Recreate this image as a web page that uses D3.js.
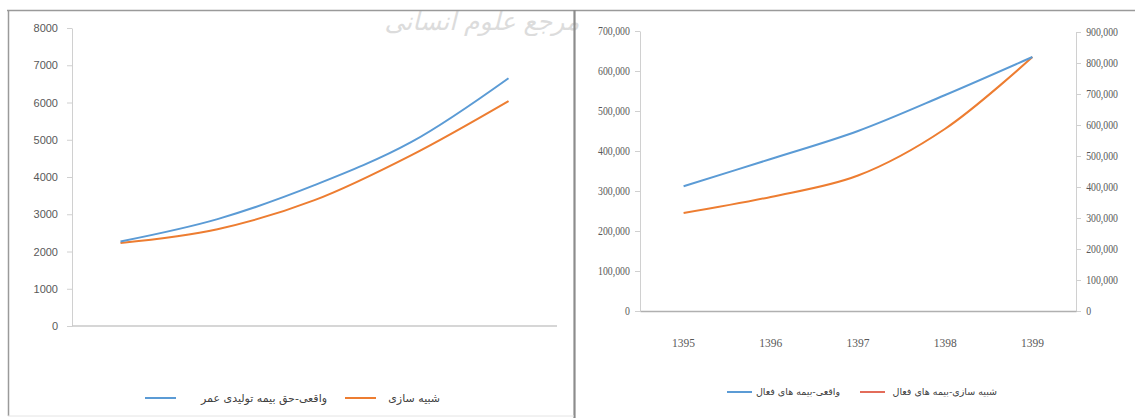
<!DOCTYPE html>
<html>
<head>
<meta charset="utf-8">
<script src="https://cdn.jsdelivr.net/npm/d3@7"></script>
<style>
  body { margin: 0; background: #fff; }
  svg { display: block; }
</style>
</head>
<body>
<div id="chart"></div>
<script>
// left panel: life premiums, real vs simulation (no category labels)
const leftCats = [1, 2, 3, 4, 5]
const leftReal = [2270, 2870, 3780, 4940, 6650]
const leftSim = [2230, 2600, 3380, 4590, 6040]
const leftTicks = [0, 1000, 2000, 3000, 4000, 5000, 6000, 7000, 8000]

// right panel: active policies, real (left axis) vs simulation (right axis)
const years = ["1395", "1396", "1397", "1398", "1399"]
const rightReal = [312000, 380000, 450000, 540000, 635000]
const rightSim = [316000, 368000, 437000, 588000, 819000]
const rightTicksL = [0, 100000, 200000, 300000, 400000, 500000, 600000, 700000]
const rightTicksR = [0, 100000, 200000, 300000, 400000, 500000, 600000, 700000, 800000, 900000]

const legendLeft = ["واقعی-حق بیمه تولیدی عمر", "شبیه سازی"]
const legendRight = ["واقعی-بیمه های فعال", "شبیه سازی-بیمه های فعال"]

const blue = "#5b9bd5"
const orange = "#ed7d31"
const red = "#e36c5a"

const W = 1135, H = 418
const svg = d3.select("#chart").append("svg")
  .attr("width", W).attr("height", H)

// watermark
svg.append("text")
  .attr("x", 482).attr("y", 30)
  .attr("text-anchor", "middle")
  .style("font-family", "DejaVu Sans")
  .style("font-size", "25px")
  .style("font-style", "italic")
  .attr("fill", "#dcdcdc")
  .text("مرجع علوم انسانی")

// frame
svg.append("line").attr("x1", 7).attr("x2", W).attr("y1", 10.5).attr("y2", 10.5)
  .attr("stroke", "#9a9a9a").attr("stroke-width", 1.5)
svg.append("line").attr("x1", 8.5).attr("x2", 8.5).attr("y1", 10).attr("y2", 416)
  .attr("stroke", "#9a9a9a").attr("stroke-width", 1.5)
svg.append("line").attr("x1", 574.5).attr("x2", 574.5).attr("y1", 10).attr("y2", H)
  .attr("stroke", "#8c8c8c").attr("stroke-width", 2.2)
svg.append("line").attr("x1", 8).attr("x2", 574).attr("y1", 416).attr("y2", 416)
  .attr("stroke", "#e4e4e4")

const smooth = d3.curveCatmullRom.alpha(0.5)

function styleAxis(g, font, size) {
  g.select(".domain").attr("stroke", "#d0d0d0")
  g.selectAll(".tick line").attr("stroke", "#d0d0d0")
  g.selectAll(".tick text")
    .attr("fill", "#595959")
    .style("font-family", font)
    .style("font-size", size)
}

// ---------- left chart ----------
const x1 = d3.scaleBand().domain(leftCats).range([72, 557])
const y1 = d3.scaleLinear().domain([0, 8000]).range([326, 28])

svg.append("g")
  .attr("transform", "translate(72,0)")
  .call(d3.axisLeft(y1).tickValues(leftTicks).tickFormat(d3.format("d")).tickSize(5).tickPadding(9).tickSizeOuter(0))
  .call(g => styleAxis(g, "Liberation Sans", "11px"))

svg.append("line")
  .attr("x1", 72).attr("x2", 557).attr("y1", y1(0)).attr("y2", y1(0))
  .attr("stroke", "#c8c8c8").attr("stroke-width", 1.5)

const line1 = d3.line()
  .x((d, i) => x1(leftCats[i]) + x1.bandwidth() / 2)
  .y(d => y1(d))
  .curve(smooth)

svg.append("path").datum(leftSim).attr("d", line1)
  .attr("fill", "none").attr("stroke", orange).attr("stroke-width", 2)
svg.append("path").datum(leftReal).attr("d", line1)
  .attr("fill", "none").attr("stroke", blue).attr("stroke-width", 2)

// legend left
const legL = [
  { sx: 145, tx: 327, color: blue, label: legendLeft[0] },
  { sx: 345, tx: 440, color: orange, label: legendLeft[1] }
]
legL.forEach(d => {
  svg.append("line").attr("x1", d.sx).attr("x2", d.sx + 31)
    .attr("y1", 398).attr("y2", 398)
    .attr("stroke", d.color).attr("stroke-width", 2)
  svg.append("text").attr("x", d.tx).attr("y", 402)
    .attr("text-anchor", "end")
    .style("font-family", "DejaVu Sans").style("font-size", "11px")
    .attr("fill", "#404040")
    .text(d.label)
})

// ---------- right chart ----------
const x2 = d3.scaleBand().domain(years).range([640, 1076])
const y2 = d3.scaleLinear().domain([0, 700000]).range([311, 31])
const y2r = d3.scaleLinear().domain([0, 900000]).range([311, 32])

const fmt = d3.format(",")

svg.append("g")
  .attr("transform", "translate(640,0)")
  .call(d3.axisLeft(y2).tickValues(rightTicksL).tickFormat(fmt).tickSize(5).tickPadding(6).tickSizeOuter(0))
  .call(g => styleAxis(g, "Liberation Serif", "11.5px"))
  .call(g => g.selectAll(".tick text").attr("transform", "scale(0.85,1)").attr("x", -12))

svg.append("g")
  .attr("transform", "translate(1076,0)")
  .call(d3.axisRight(y2r).tickValues(rightTicksR).tickFormat(fmt).tickSize(5).tickPadding(6).tickSizeOuter(0))
  .call(g => styleAxis(g, "Liberation Serif", "11.5px"))
  .call(g => g.selectAll(".tick text").attr("transform", "scale(0.85,1)").attr("x", 12))

svg.append("g")
  .attr("transform", `translate(0,${y2(0)})`)
  .call(d3.axisBottom(x2).tickSize(0).tickPadding(28).tickSizeOuter(0))
  .call(g => styleAxis(g, "Liberation Serif", "11.5px"))
  .call(g => g.select(".domain").attr("stroke", "#b0b0b0").attr("stroke-width", 1.5))

const line2 = d3.line()
  .x((d, i) => x2(years[i]) + x2.bandwidth() / 2)
  .y(d => y2(d))
  .curve(smooth)
const line2r = d3.line()
  .x((d, i) => x2(years[i]) + x2.bandwidth() / 2)
  .y(d => y2r(d))
  .curve(smooth)

svg.append("path").datum(rightSim).attr("d", line2r)
  .attr("fill", "none").attr("stroke", orange).attr("stroke-width", 2)
svg.append("path").datum(rightReal).attr("d", line2)
  .attr("fill", "none").attr("stroke", blue).attr("stroke-width", 2)

// legend right
const legR = [
  { sx: 727, tx: 840, color: blue, label: legendRight[0] },
  { sx: 860, tx: 997, color: red, label: legendRight[1] }
]
legR.forEach(d => {
  svg.append("line").attr("x1", d.sx).attr("x2", d.sx + 25)
    .attr("y1", 392).attr("y2", 392)
    .attr("stroke", d.color).attr("stroke-width", 2)
  svg.append("text").attr("x", d.tx).attr("y", 395)
    .attr("text-anchor", "end")
    .style("font-family", "DejaVu Sans").style("font-size", "9.5px")
    .attr("fill", "#404040")
    .text(d.label)
})
</script>
</body>
</html>
